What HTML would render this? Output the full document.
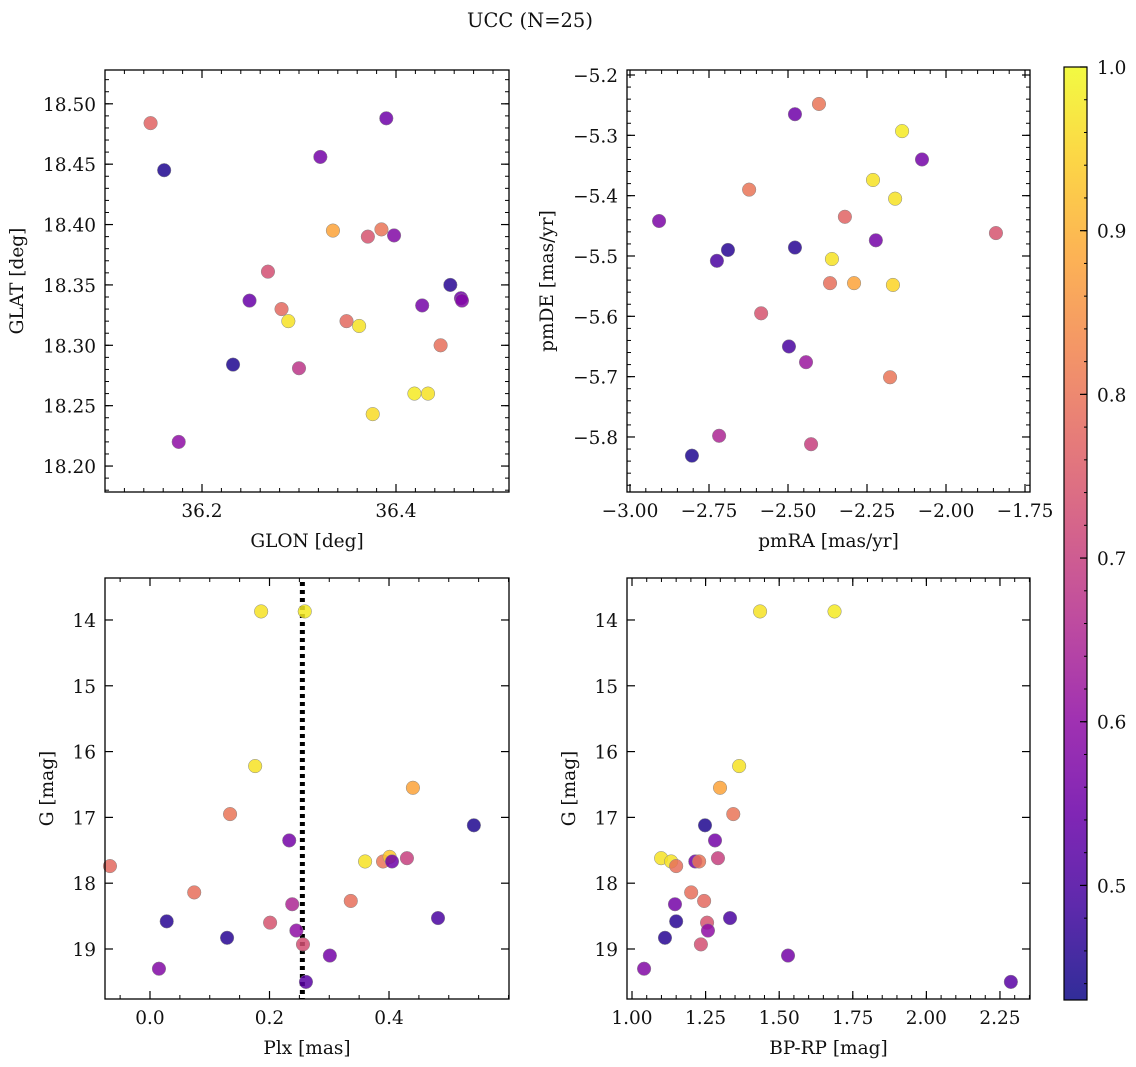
<!DOCTYPE html>
<html><head><meta charset="utf-8"><style>
html,body{margin:0;padding:0;background:#fff;}
svg{display:block;font-family:"DejaVu Serif","Liberation Serif",serif;}
</style></head><body>
<svg id="fig" width="1136" height="1067" viewBox="0 0 1136 1067" xmlns="http://www.w3.org/2000/svg">
<text x="530" y="27" font-size="19.5" text-anchor="middle" fill="#111">UCC (N=25)</text>
</svg>
<script>
// Panel 1: GLON vs GLAT
const glon = [36.147,36.161,36.176,36.249,36.268,36.232,36.282,36.289,36.300,36.322,36.335,36.349,36.362,36.371,36.376,36.385,36.390,36.398,36.419,36.433,36.427,36.446,36.456,36.467,36.468];
const glat = [18.484,18.445,18.220,18.337,18.361,18.284,18.330,18.320,18.281,18.456,18.395,18.320,18.316,18.390,18.243,18.396,18.488,18.391,18.260,18.260,18.333,18.300,18.350,18.339,18.337];
const c1 = [0.77,0.45,0.60,0.54,0.73,0.45,0.78,0.97,0.68,0.56,0.88,0.78,0.97,0.74,0.96,0.80,0.55,0.58,0.98,0.97,0.56,0.79,0.46,0.55,0.58];
// Panel 2: pmRA vs pmDE
const pmra = [-2.908,-2.725,-2.690,-2.623,-2.718,-2.804,-2.585,-2.478,-2.478,-2.497,-2.443,-2.427,-2.402,-2.361,-2.367,-2.320,-2.291,-2.231,-2.222,-2.177,-2.168,-2.161,-2.139,-2.076,-1.842];
const pmde = [-5.442,-5.508,-5.490,-5.390,-5.798,-5.831,-5.595,-5.265,-5.486,-5.650,-5.676,-5.812,-5.248,-5.505,-5.545,-5.435,-5.545,-5.374,-5.474,-5.701,-5.548,-5.405,-5.293,-5.340,-5.462];
const c2 = [0.57,0.50,0.46,0.80,0.65,0.45,0.74,0.55,0.46,0.50,0.62,0.70,0.80,0.97,0.79,0.77,0.88,0.97,0.56,0.80,0.95,0.97,0.98,0.56,0.74];
// Panel 3: Plx vs G
const plx = [-0.067,0.028,0.015,0.129,0.074,0.134,0.176,0.186,0.201,0.233,0.238,0.245,0.256,0.261,0.259,0.301,0.336,0.360,0.390,0.401,0.405,0.430,0.440,0.482,0.542];
const g3 = [17.74,18.58,19.30,18.83,18.14,16.95,16.22,13.87,18.60,17.35,18.32,18.72,18.93,19.50,13.87,19.10,18.27,17.67,17.67,17.60,17.67,17.62,16.55,18.53,17.12];
const c3 = [0.78,0.46,0.58,0.46,0.79,0.80,0.97,0.97,0.74,0.56,0.65,0.60,0.73,0.52,0.98,0.56,0.79,0.97,0.80,0.93,0.55,0.70,0.88,0.50,0.45];
// Panel 4: BP-RP vs G
const bprp = [1.041,1.099,1.112,1.133,1.150,1.146,1.150,1.201,1.215,1.228,1.234,1.245,1.255,1.258,1.248,1.282,1.292,1.299,1.333,1.344,1.364,1.435,1.530,1.688,2.287];
const g4 = [19.30,17.62,18.83,17.67,17.74,18.32,18.58,18.14,17.67,17.67,18.93,18.27,18.60,18.72,17.12,17.35,17.62,16.55,18.53,16.95,16.22,13.87,19.10,13.87,19.50];
const c4 = [0.58,0.97,0.46,0.97,0.79,0.56,0.46,0.79,0.55,0.80,0.73,0.78,0.74,0.60,0.45,0.56,0.70,0.88,0.50,0.80,0.97,0.97,0.56,0.98,0.52];
const plxLine = [0.255];
const cbTicks = [0.5,0.6,0.7,0.8,0.9,1.0];

const NS='http://www.w3.org/2000/svg';
const svg=document.getElementById('fig');
const VMIN=0.43, VMAX=1.0;
const FS=18.5;
const stops=[[13,8,135],[65,4,157],[106,0,168],[143,13,164],[177,42,144],[204,71,120],[225,100,98],[242,132,75],[252,166,54],[252,206,37],[240,249,33]];
function plasma(t){t=Math.max(0,Math.min(1,t));const f=t*10,i=Math.min(9,Math.floor(f)),u=f-i;const a=stops[i],b=stops[i+1];
return 'rgb('+a.map((v,k)=>Math.round(v+(b[k]-v)*u)).join(',')+')';}
function cmap(v){return plasma((v-VMIN)/(VMAX-VMIN));}
function mk(tag,attrs,parent){const e=document.createElementNS(NS,tag);for(const k in attrs)e.setAttribute(k,attrs[k]);(parent||svg).appendChild(e);return e;}
function fmtMinus(s){return s.replace('-','\u2212');}

function panel(o){
  const g=mk('g',{});
  
  
  const X=v=>o.L+(v-o.x0)/(o.x1-o.x0)*(o.R-o.L);
  const Y=v=>o.B-(v-o.y0)/(o.y1-o.y0)*(o.B-o.T);
  const eps=1e-9;
  for(let v=Math.ceil(o.x0/o.xm-eps)*o.xm; v<=o.x1+eps; v+=o.xm){const x=X(v);
    mk('line',{x1:x,x2:x,y1:o.B,y2:o.B-4,stroke:'#000','stroke-width':1},g);
    mk('line',{x1:x,x2:x,y1:o.T,y2:o.T+4,stroke:'#000','stroke-width':1},g);}
  for(let v=Math.ceil(o.y0/o.ym-eps)*o.ym; v<=o.y1+eps; v+=o.ym){const y=Y(v);
    mk('line',{x1:o.L,x2:o.L+4,y1:y,y2:y,stroke:'#000','stroke-width':1},g);
    mk('line',{x1:o.R,x2:o.R-4,y1:y,y2:y,stroke:'#000','stroke-width':1},g);}
  o.xt.forEach(v=>{const x=X(v);
    mk('line',{x1:x,x2:x,y1:o.B,y2:o.B-8,stroke:'#000','stroke-width':1.2},g);
    mk('line',{x1:x,x2:x,y1:o.T,y2:o.T+8,stroke:'#000','stroke-width':1.2},g);
    const t=mk('text',{x:x,y:o.B+25,'font-size':FS,'text-anchor':'middle',fill:'#111'},g);
    t.textContent=fmtMinus(v.toFixed(o.xd));
    
    });
  o.yt.forEach(v=>{const y=Y(v);
    mk('line',{x1:o.L,x2:o.L+8,y1:y,y2:y,stroke:'#000','stroke-width':1.2},g);
    mk('line',{x1:o.R,x2:o.R-8,y1:y,y2:y,stroke:'#000','stroke-width':1.2},g);
    const t=mk('text',{x:o.L-9,y:y+7,'font-size':FS,'text-anchor':'end',fill:'#111'},g);
    t.textContent=fmtMinus(v.toFixed(o.yd));
    
    });
  const xl=mk('text',{x:(o.L+o.R)/2,y:o.B+55,'font-size':FS,'text-anchor':'middle',fill:'#111'},g);
  xl.textContent=o.xlab;
  
  
  const yl=mk('text',{x:0,y:0,'font-size':FS,'text-anchor':'middle',fill:'#111',transform:'translate('+o.ylx+','+((o.T+o.B)/2)+') rotate(-90)'},g);
  yl.textContent=o.ylab;
  
  
  if(o.vline){o.vline.forEach(v=>{const x=X(v);
    const l=mk('line',{x1:x,x2:x,y1:o.T+4,y2:o.B,stroke:'#000','stroke-width':5,'stroke-dasharray':'4 4'},g);
    
    });}
  o.xs.forEach((v,i)=>{
    const c=mk('circle',{cx:X(v),cy:Y(o.ys[i]),r:6.8,fill:cmap(o.cs[i]),'fill-opacity':0.85,stroke:'#888','stroke-width':0.5},g);
    
    });
  const fr=mk('rect',{x:o.L,y:o.T,width:o.R-o.L,height:o.B-o.T,fill:'none',stroke:'#000','stroke-width':1.3},g);
  
  
}
panel({name:'glon-glat-panel',L:105,R:509,T:70,B:492,x0:36.1,x1:36.5165,y0:18.1785,y1:18.528,
  xt:[36.2,36.4],xd:1,xm:0.02,yt:[18.20,18.25,18.30,18.35,18.40,18.45,18.50],yd:2,ym:0.01,
  xlab:'GLON [deg]',ylab:'GLAT [deg]',ylx:23,xs:glon,ys:glat,cs:c1});
panel({name:'proper-motion-panel',L:627,R:1030,T:70,B:492,x0:-3.0095,x1:-1.7342,y0:-5.8912,y1:-5.1917,
  xt:[-3.0,-2.75,-2.5,-2.25,-2.0,-1.75],xd:2,xm:0.05,yt:[-5.8,-5.7,-5.6,-5.5,-5.4,-5.3,-5.2],yd:1,ym:0.02,
  xlab:'pmRA [mas/yr]',ylab:'pmDE [mas/yr]',ylx:553,xs:pmra,ys:pmde,cs:c2});
panel({name:'parallax-mag-panel',L:105,R:509,T:578,B:999,x0:-0.0753,x1:0.6008,y0:19.76,y1:13.362,
  xt:[0.0,0.2,0.4],xd:1,xm:0.05,yt:[14,15,16,17,18,19],yd:0,ym:0.2,
  xlab:'Plx [mas]',ylab:'G [mag]',ylx:53,xs:plx,ys:g3,cs:c3,vline:plxLine});
panel({name:'cmd-panel',L:627,R:1030,T:578,B:999,x0:0.983,x1:2.352,y0:19.76,y1:13.362,
  xt:[1.0,1.25,1.5,1.75,2.0,2.25],xd:2,xm:0.05,yt:[14,15,16,17,18,19],yd:0,ym:0.2,
  xlab:'BP-RP [mag]',ylab:'G [mag]',ylx:575,xs:bprp,ys:g4,cs:c4});

(function(){
  const L=1064,R=1087,T=67,B=1000;
  const g=mk('g',{});
  
  
  const defs=mk('defs',{},g);
  const lg=mk('linearGradient',{id:'cbg',x1:0,y1:1,x2:0,y2:0},defs);
  for(let i=0;i<=20;i++){mk('stop',{offset:(i/20),'stop-color':plasma(i/20),'stop-opacity':0.85},lg);}
  mk('rect',{x:L,y:T,width:R-L,height:B-T,fill:'url(#cbg)'},g);
  const Y=v=>B-(v-VMIN)/(VMAX-VMIN)*(B-T);
  for(let v=0.44;v<=1.0001;v+=0.02){const y=Y(v);mk('line',{x1:R,x2:R-3,y1:y,y2:y,stroke:'#000','stroke-width':1},g);}
  cbTicks.forEach(v=>{const y=Y(v);
    mk('line',{x1:R,x2:R-7,y1:y,y2:y,stroke:'#000','stroke-width':1.2},g);
    const t=mk('text',{x:R+10,y:y+7,'font-size':FS,fill:'#111'},g);
    t.textContent=v.toFixed(1);
    
    });
  mk('rect',{x:L,y:T,width:R-L,height:B-T,fill:'none',stroke:'#000','stroke-width':1.2},g);
})();
</script>
</body></html>
